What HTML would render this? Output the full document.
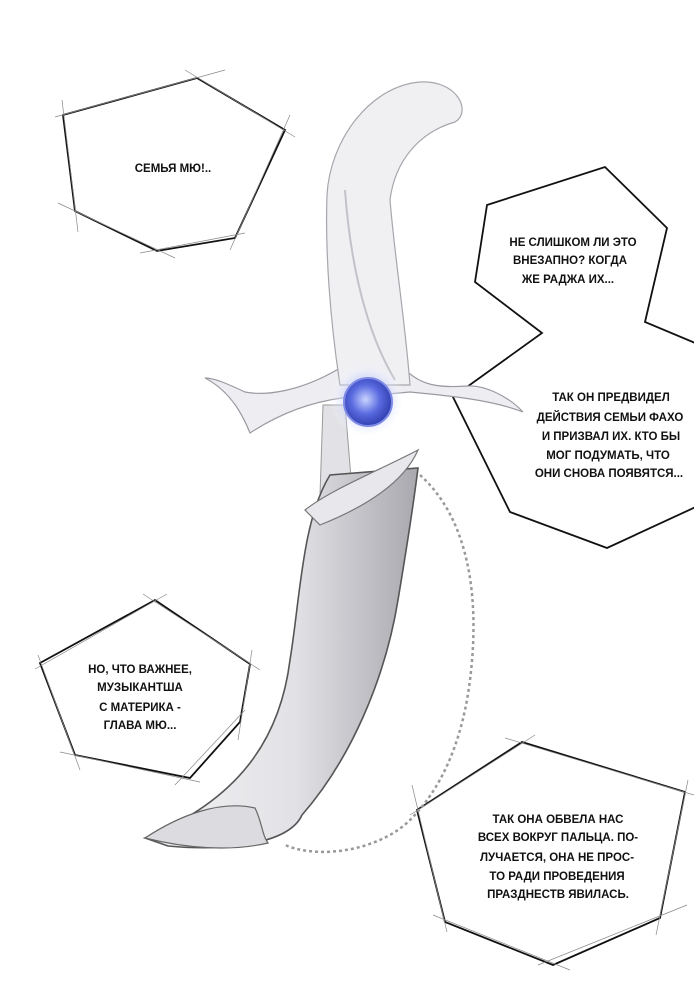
<!DOCTYPE html>
<html><head><meta charset="utf-8"><style>
html,body{margin:0;padding:0;background:#fff;}
svg{display:block}
text{font-family:"Liberation Sans Narrow","Liberation Sans",sans-serif;font-weight:bold;font-size:11.5px;fill:#111;text-anchor:middle}
</style></head><body>
<svg width="694" height="1000" viewBox="0 0 694 1000" xmlns="http://www.w3.org/2000/svg">
<defs>
<linearGradient id="sh" x1="0" x2="1" y1="0" y2="0">
<stop offset="0" stop-color="#f2f2f4"/><stop offset="0.55" stop-color="#e2e2e6"/><stop offset="1" stop-color="#a8a8ae"/>
</linearGradient>
<radialGradient id="gem" cx="0.45" cy="0.45" r="0.6">
<stop offset="0" stop-color="#c9d3ff"/><stop offset="0.5" stop-color="#5a6be0"/><stop offset="1" stop-color="#2a38a8"/>
</radialGradient>
<radialGradient id="glow"><stop offset="0.5" stop-color="#b8c4ff" stop-opacity="0.7"/><stop offset="1" stop-color="#fff" stop-opacity="0"/></radialGradient>
</defs>
<g fill="none" stroke="#111" stroke-width="1.8" stroke-linejoin="miter">
<polygon points="63,115 197,78 285,130 235,238 157,251 75,211"/>
<polygon points="487,205 605,167 667,228 645,322 700,345 700,505 607,548 510,512 453,397 542,333 475,282"/>
<polygon points="40,663 155,600 250,664 240,722 190,778 75,755"/>
<polygon points="417,810 522,742 685,792 660,918 553,965 445,922"/>
</g>
<g stroke="#888" stroke-width="0.7">
<line x1="55" y1="117" x2="225" y2="70"/><line x1="185" y1="70" x2="295" y2="137"/><line x1="290" y1="115" x2="230" y2="250"/><line x1="245" y1="233" x2="140" y2="253"/><line x1="175" y1="258" x2="58" y2="203"/><line x1="78" y1="232" x2="62" y2="100"/>
<line x1="35" y1="669" x2="167" y2="594"/><line x1="143" y1="594" x2="260" y2="670"/><line x1="252" y1="650" x2="238" y2="740"/><line x1="245" y1="710" x2="175" y2="785"/><line x1="200" y1="782" x2="60" y2="752"/><line x1="80" y1="770" x2="38" y2="655"/>
<line x1="410" y1="815" x2="535" y2="735"/><line x1="505" y1="738" x2="694" y2="795"/><line x1="688" y1="780" x2="656" y2="935"/><line x1="687" y1="905" x2="538" y2="965"/><line x1="570" y1="970" x2="433" y2="915"/><line x1="447" y1="932" x2="412" y2="785"/>
</g>
<path d="M420,475 C470,520 480,600 470,680 C460,760 430,800 410,820 C380,850 320,860 285,845" fill="none" stroke="#999" stroke-width="2.5" stroke-dasharray="3 3"/>
<path d="M205,378 C232,392 244,418 250,433 C282,412 312,402 342,398 L410,392 C452,396 492,400 523,412 C506,394 482,385 468,386 C440,388 420,386 404,368 L340,368 C300,392 265,396 245,392 C230,385 215,378 205,378 Z" fill="#eeeef2" stroke="#9a9aa2" stroke-width="1.2"/>
<path d="M327,195 C325,250 330,320 340,385 L410,385 C405,320 395,260 390,200 C395,160 420,132 455,122 C472,112 458,80 420,82 C370,86 330,140 327,195 Z" fill="#f0f0f3" stroke="#a6a6ad" stroke-width="1.2"/>
<path d="M345,190 C350,260 365,330 395,380" fill="none" stroke="#c2c2ca" stroke-width="2"/>
<path d="M323,405 L345,405 L352,490 L320,495 Z" fill="#e2e2e6" stroke="#999" stroke-width="1"/>
<circle cx="367" cy="400" r="38" fill="url(#glow)"/>
<circle cx="368" cy="402" r="24" fill="url(#gem)" stroke="#7d8ae6" stroke-width="2"/>
<path d="M330,475 C302,520 300,600 290,660 C280,740 238,800 145,838 L168,846 C232,852 290,842 302,815 C350,760 385,680 398,600 C408,540 414,500 418,468 Z" fill="url(#sh)" stroke="#555" stroke-width="1.6"/>
<path d="M305,510 C330,490 380,470 418,450 C405,480 370,505 320,525 Z" fill="#e8e8ec" stroke="#777" stroke-width="1.2"/>
<path d="M145,838 C180,815 220,800 255,808 C262,822 262,835 268,843 C230,852 185,848 145,838 Z" fill="#dcdce0" stroke="#666" stroke-width="1.2"/>
<text x="173" y="172">СЕМЬЯ МЮ!..</text>
<text x="573" y="246">НЕ СЛИШКОМ ЛИ ЭТО</text>
<text x="570" y="264">ВНЕЗАПНО? КОГДА</text>
<text x="568" y="283">ЖЕ РАДЖА ИХ...</text>
<text x="611" y="401">ТАК ОН ПРЕДВИДЕЛ</text>
<text x="610" y="421">ДЕЙСТВИЯ СЕМЬИ ФАХО</text>
<text x="611" y="440">И ПРИЗВАЛ ИХ. КТО БЫ</text>
<text x="608" y="459">МОГ ПОДУМАТЬ, ЧТО</text>
<text x="609" y="477">ОНИ СНОВА ПОЯВЯТСЯ...</text>
<text x="140" y="673">НО, ЧТО ВАЖНЕЕ,</text>
<text x="140" y="691">МУЗЫКАНТША</text>
<text x="140" y="711">С МАТЕРИКА -</text>
<text x="140" y="729">ГЛАВА МЮ...</text>
<text x="558" y="823">ТАК ОНА ОБВЕЛА НАС</text>
<text x="558" y="841">ВСЕХ ВОКРУГ ПАЛЬЦА. ПО-</text>
<text x="557" y="861">ЛУЧАЕТСЯ, ОНА НЕ ПРОС-</text>
<text x="557" y="880">ТО РАДИ ПРОВЕДЕНИЯ</text>
<text x="558" y="898">ПРАЗДНЕСТВ ЯВИЛАСЬ.</text>
</svg>
</body></html>
